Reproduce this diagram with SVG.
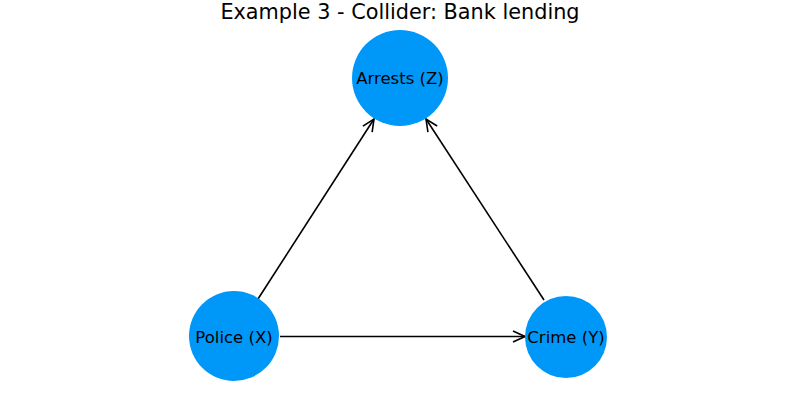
<svg xmlns="http://www.w3.org/2000/svg" width="800" height="400" viewBox="0 0 800 400">
<style>
.node{fill:#0098f8}
.lbl{font-family:"DejaVu Sans",sans-serif;font-size:16.5px;fill:#000;text-anchor:middle;dominant-baseline:central}
.edge{stroke:#000;stroke-width:1.6;fill:none;marker-end:url(#arr)}
.title{font-family:"DejaVu Sans",sans-serif;font-size:20.8px;fill:#000;text-anchor:middle}
</style>
<defs>
<marker id="arr" markerUnits="userSpaceOnUse" markerWidth="14" markerHeight="14" refX="13" refY="7" orient="auto" viewBox="0 0 14 14">
<path d="M1,1.5 L13,7 L1,12.5" fill="none" stroke="#000" stroke-width="1.6"/>
</marker>
</defs>
<rect width="800" height="400" fill="#fff"/>
<text class="title" x="400" y="19">Example 3 - Collider: Bank lending</text>
<g id="edges">
<line class="edge" x1="258" y1="299" x2="374" y2="119"/>
<line class="edge" x1="544" y1="300" x2="426" y2="119"/>
<line class="edge" x1="280" y1="336.5" x2="525" y2="336.5"/>
</g>
<g id="node-arrests"><circle class="node" cx="400" cy="78" r="48"/><text class="lbl" x="400" y="78">Arrests (Z)</text></g>
<g id="node-police"><circle class="node" cx="234" cy="336" r="45"/><text class="lbl" x="234" y="337">Police (X)</text></g>
<g id="node-crime"><circle class="node" cx="566" cy="337" r="41"/><text class="lbl" x="566" y="337">Crime (Y)</text></g>
</svg>
